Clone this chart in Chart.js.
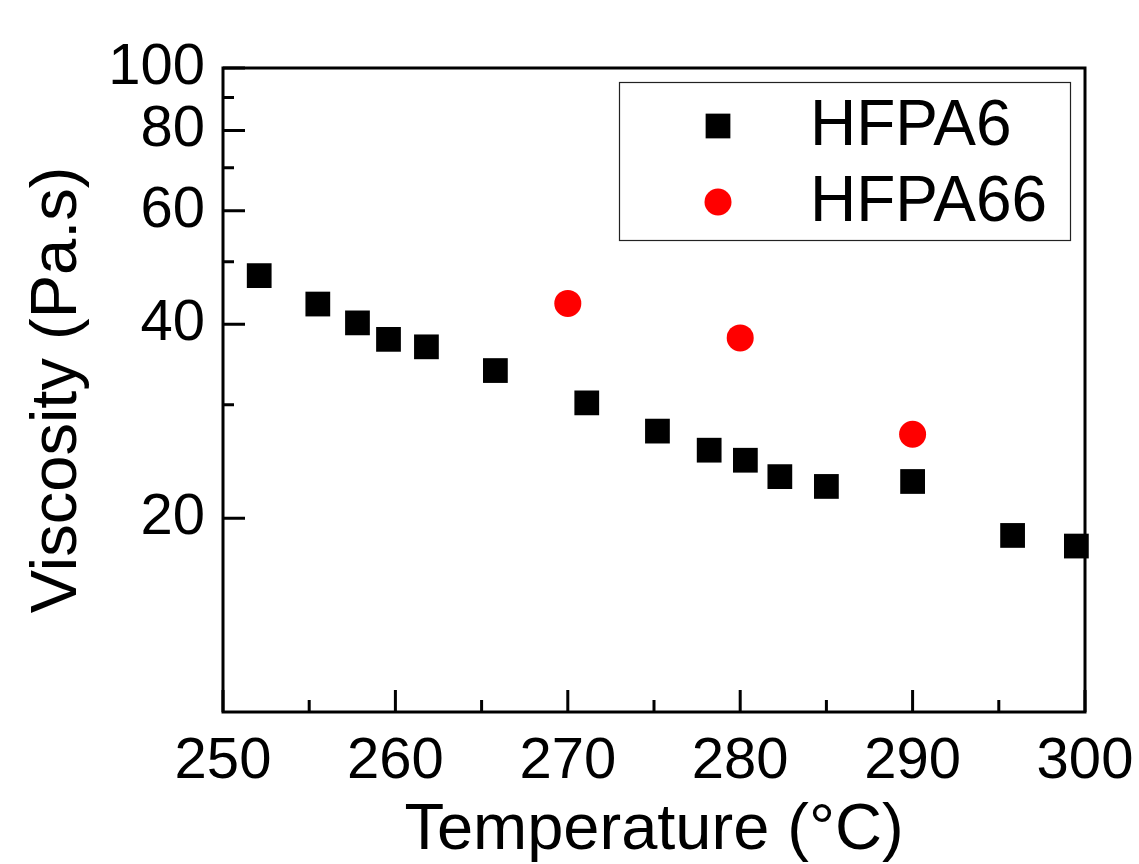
<!DOCTYPE html>
<html>
<head>
<meta charset="utf-8">
<script src="https://cdn.jsdelivr.net/npm/chart.js@4/dist/chart.umd.min.js"></script>
<style>
  html, body { margin: 0; padding: 0; background: #fff; }
  #wrap { width: 1139px; height: 864px; }
</style>
</head>
<body>
<div id="wrap"><canvas id="c" width="1139" height="864"></canvas></div>
<script>
// ---- data ----
const seriesNames = ['HFPA6', 'HFPA66'];
const temps6 = [252.1, 255.5, 257.8, 259.6, 261.8, 265.8, 271.1, 275.2, 278.2, 280.3, 282.3, 285.0, 290.0, 295.8, 299.5];
const visc6  = [47.6, 43.0, 40.2, 37.9, 36.9, 33.9, 30.2, 27.3, 25.5, 24.6, 23.2, 22.4, 22.8, 18.8, 18.1];
const temps66 = [270, 280, 290];
const visc66  = [43.1, 38.1, 27.0];
const xMajorTicks = [250, 260, 270, 280, 290, 300];
const xMinorTicks = [255, 265, 275, 285, 295];
const yMajorTicks = [20, 40, 60, 80, 100];
const yMinorTicks = [30, 50, 70, 90];
const xTitle = 'Temperature (°C)';
const yTitle = 'Viscosity (Pa.s)';

const FONT = "'Liberation Sans', Arial, Helvetica, sans-serif";

const toPts = (xs, ys) => xs.map((x, i) => ({ x: x, y: ys[i] }));

const framePlugin = {
  id: 'frameTicks',
  afterDatasetsDraw(chart) {
    const { ctx, chartArea: a, scales } = chart;
    const xs = scales.x, ys = scales.y;
    ctx.save();
    ctx.strokeStyle = '#000';
    ctx.lineWidth = 3;
    ctx.lineCap = 'butt';
    ctx.beginPath();
    xMajorTicks.forEach(v => { const p = xs.getPixelForValue(v); ctx.moveTo(p, a.bottom); ctx.lineTo(p, a.bottom - 22); });
    xMinorTicks.forEach(v => { const p = xs.getPixelForValue(v); ctx.moveTo(p, a.bottom); ctx.lineTo(p, a.bottom - 12); });
    yMajorTicks.forEach(v => { const p = ys.getPixelForValue(v); ctx.moveTo(a.left, p); ctx.lineTo(a.left + 22, p); });
    yMinorTicks.forEach(v => { const p = ys.getPixelForValue(v); ctx.moveTo(a.left, p); ctx.lineTo(a.left + 11, p); });
    ctx.stroke();
    ctx.lineWidth = 3;
    ctx.strokeRect(a.left, a.top, a.right - a.left, a.bottom - a.top);
    ctx.restore();
  }
};

const legendPlugin = {
  id: 'boxLegend',
  afterDraw(chart) {
    const { ctx } = chart;
    ctx.save();
    ctx.strokeStyle = '#222';
    ctx.lineWidth = 1.2;
    ctx.strokeRect(619.5, 82.5, 451, 158);
    const rows = [126, 202];
    chart.data.datasets.forEach((ds, i) => {
      const y = rows[i];
      ctx.fillStyle = ds.backgroundColor;
      ctx.strokeStyle = ds.borderColor;
      ctx.lineWidth = 0;
      if (Chart.helpers && Chart.helpers.drawPoint) {
        Chart.helpers.drawPoint(ctx, { pointStyle: ds.pointStyle, radius: ds.pointRadius, rotation: 0, borderWidth: 0 }, 718, y);
      }
      ctx.fillStyle = '#000';
      ctx.font = '64px ' + FONT;
      ctx.textAlign = 'left';
      ctx.textBaseline = 'middle';
      ctx.fillText(ds.label, 810, y + 1);
    });
    ctx.restore();
  }
};

new Chart(document.getElementById('c'), {
  type: 'scatter',
  data: {
    datasets: [
      { label: seriesNames[0], data: toPts(temps6, visc6), pointStyle: 'rect', pointRadius: 17.5, pointHoverRadius: 17.5,
        backgroundColor: '#000000', borderColor: '#000000', borderWidth: 0, clip: false },
      { label: seriesNames[1], data: toPts(temps66, visc66), pointStyle: 'circle', pointRadius: 13.5, pointHoverRadius: 13.5,
        backgroundColor: '#ff0000', borderColor: '#ff0000', borderWidth: 0, clip: false }
    ]
  },
  options: {
    responsive: false,
    animation: false,
    devicePixelRatio: 1,
    events: [],
    layout: { padding: { top: 68, right: 54, left: 0, bottom: 0 } },
    plugins: { legend: { display: false }, tooltip: { enabled: false } },
    scales: {
      x: {
        type: 'linear', min: 250, max: 300,
        afterBuildTicks: s => { s.ticks = xMajorTicks.map(v => ({ value: v })); },
        afterFit: s => { s.height = 152; s.paddingLeft = 0; s.paddingRight = 0; },
        grid: { display: false, drawTicks: false },
        border: { display: false },
        ticks: { color: '#000', padding: 15, maxRotation: 0, font: { family: FONT, size: 58 }, callback: v => String(v) },
        title: { display: true, text: xTitle, color: '#000', font: { family: FONT, size: 65, lineHeight: 1 }, padding: { top: 0, bottom: 0 } }
      },
      y: {
        type: 'logarithmic', min: 10, max: 100,
        afterBuildTicks: s => { s.ticks = yMajorTicks.map(v => ({ value: v })); },
        afterFit: s => { s.width = 223; s.paddingTop = 0; s.paddingBottom = 0; },
        grid: { display: false, drawTicks: false },
        border: { display: false },
        ticks: { color: '#000', padding: 18, font: { family: FONT, size: 58 }, callback: v => String(v) },
        title: { display: true, text: yTitle, color: '#000', font: { family: FONT, size: 65, lineHeight: 1 }, padding: { top: 26, bottom: 0 } }
      }
    }
  },
  plugins: [framePlugin, legendPlugin]
});
</script>
</body>
</html>
